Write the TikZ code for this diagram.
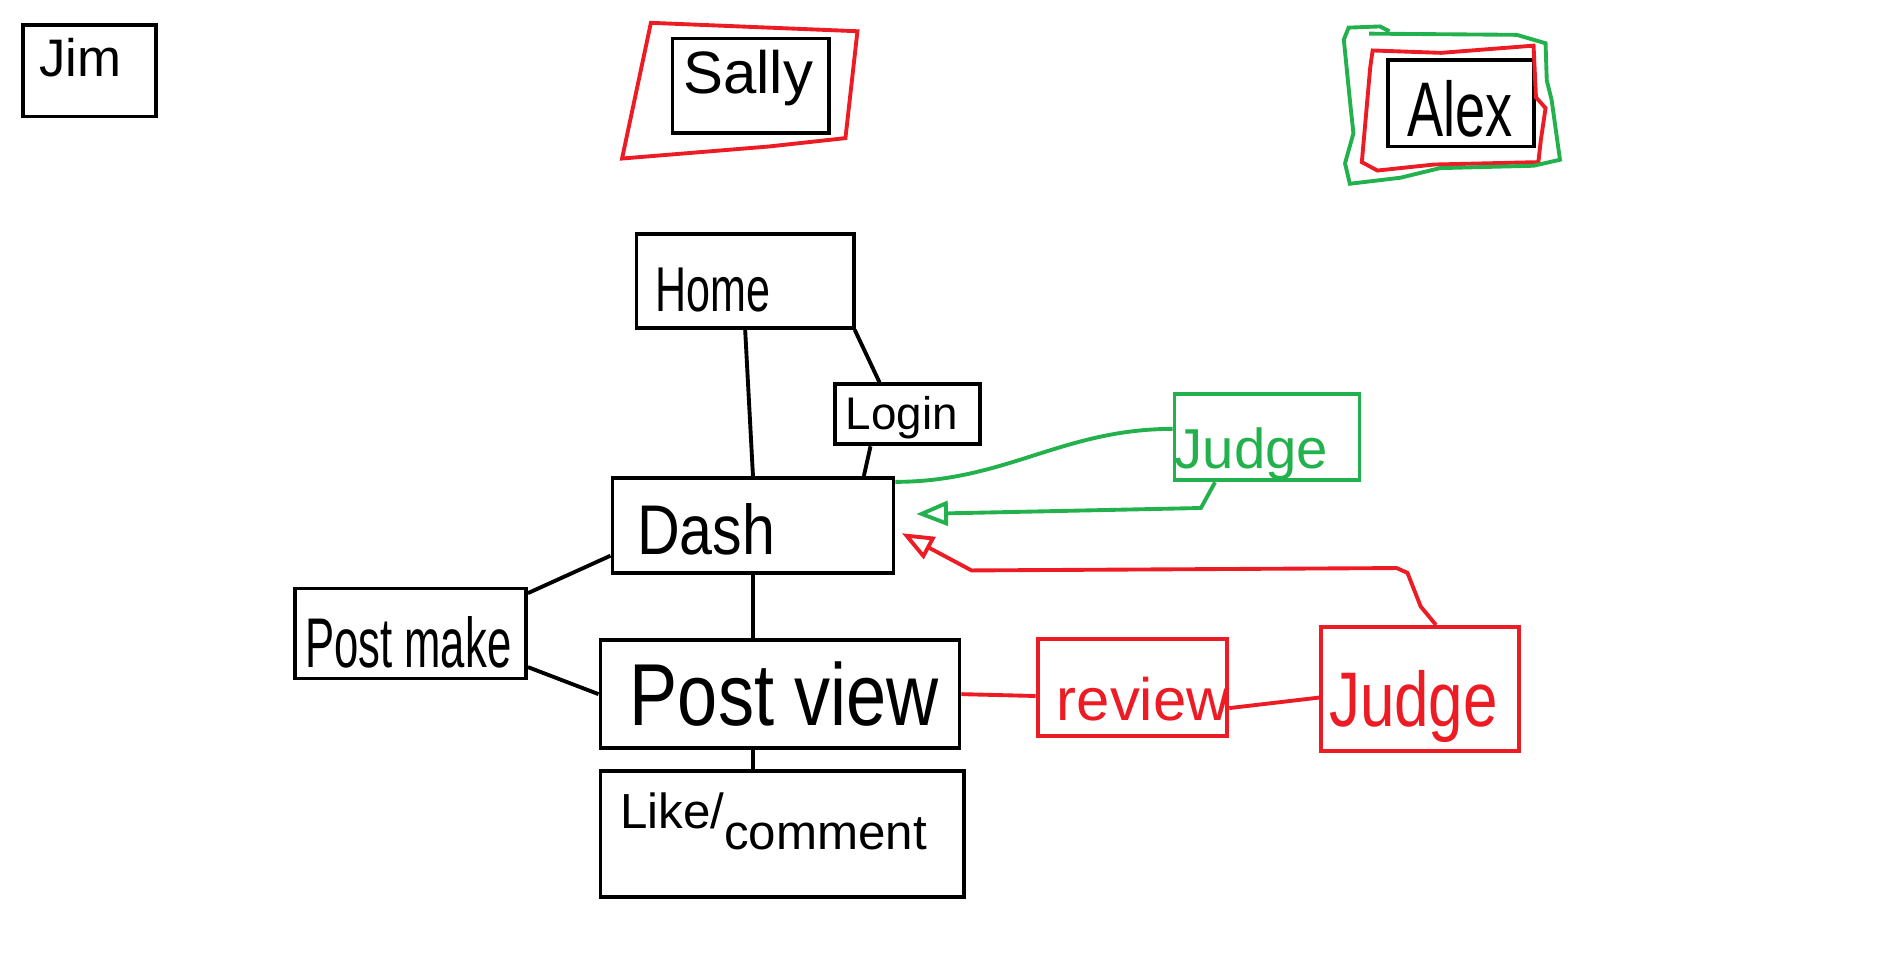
\documentclass[tikz,border=0pt]{standalone}
\definecolor{paintred}{RGB}{237,28,36}
\definecolor{paintgreen}{RGB}{34,177,76}
\usepackage{fontspec}
\setmainfont{Liberation Sans}
\usepackage{graphicx}
\usepackage{tikz}
\usetikzlibrary{arrows.meta,positioning,fit,calc}

\begin{document}
\begin{tikzpicture}[
    x=0.012cm, y=-0.012cm,
    line width=1.1pt,
    page/.style={draw=black, inner sep=0pt},
    red page/.style={draw=paintred, inner sep=0pt},
    green page/.style={draw=paintgreen, inner sep=0pt},
    page text/.style={anchor=base, inner sep=0pt},
    red link/.style={draw=paintred},
    green link/.style={draw=paintgreen},
    hand arrow/.style={-{Triangle[open, length=9pt, width=7pt]}}
]
    \useasboundingbox (0,0) rectangle (1568,805);

    % Users
    \node[page, fit={(19,21) (130,97)}] (jim) {};
    \node[page text, font=\fontsize{15}{15}\selectfont] (jimtxt) at (67,64) {Jim};
    \node[page, fit={(560,32) (690,111)}] (sally) {};
    \node[page text, font=\fontsize{17}{17}\selectfont] (sallytxt) at (623,78) {Sally};
    \node[page, fit={(1156,50) (1277,122)}] (alex) {};
    \node[page text, font=\fontsize{22}{22}\selectfont] (alextxt) at (1216,114) {\scalebox{0.7}[1]{Alex}};

    % Highlights round the users
    \draw[paintred] (542,19) -- (714,26) -- (704,115) -- (640,122) -- (518,132) -- cycle;
    \draw[paintred] (1143,42) -- (1200,44) -- (1277,38) -- (1279,81) -- (1287,90)
        -- (1283,117) -- (1281,135) -- (1194,137) -- (1147,142) -- (1134,135)
        -- (1141,56) -- cycle;
    \draw[paintgreen] (1140,28) -- (1263,29) -- (1287,36) -- (1288,67) -- (1292,83)
        -- (1299,133) -- (1277,138) -- (1199,140) -- (1166,148) -- (1124,153)
        -- (1120,136) -- (1127,111) -- (1124,83) -- (1119,33) -- (1123,23)
        -- (1149,22) -- (1157,26);

    % Pages
    \node[page, fit={(530,195) (711,273)}] (home) {};
    \node[page text, font=\fontsize{18}{18}\selectfont] (hometxt) at (594,259) {\scalebox{0.68}[1]{Home}};
    \node[page, fit={(695,320) (816,370)}] (login) {};
    \node[page text, font=\fontsize{13}{13}\selectfont] (logintxt) at (751,358) {Login};
    \node[page, fit={(510,398) (744,477)}] (dash) {};
    \node[page text, font=\fontsize{20}{20}\selectfont] (dashtxt) at (588,462) {\scalebox{0.84}[1]{Dash}};
    \node[page, fit={(246,490) (438,565)}] (postmake) {};
    \node[page text, font=\fontsize{20}{20}\selectfont] (postmaketxt) at (340,556) {\scalebox{0.62}[1]{Post make}};
    \node[page, fit={(500,533) (799,623)}] (postview) {};
    \node[page text, font=\fontsize{25}{25}\selectfont] (postviewtxt) at (653,604) {\scalebox{0.82}[1]{Post view}};
    \node[page, fit={(500,642) (803,747)}] (like) {};
    \node[page text, font=\fontsize{14}{14}\selectfont] (liketxt) at (644,690) {Like/\raisebox{-6pt}{comment}};

    % Judging
    \node[green page, fit={(978,328) (1132,400)}] (judgeg) {};
    \node[page text, paintgreen, font=\fontsize{16}{16}\selectfont] (judgegtxt) at (1042,390) {Judge};
    \node[red page, fit={(864,532) (1022,613)}] (review) {};
    \node[page text, paintred, font=\fontsize{17}{17}\selectfont] (reviewtxt) at (952,600) {review};
    \node[red page, fit={(1100,522) (1265,625)}] (judger) {};
    \node[page text, paintred, font=\fontsize{22}{22}\selectfont] (judgertxt) at (1177,605) {\scalebox{0.8}[1]{Judge}};

    \coordinate (greentip) at (763,428);
    \coordinate (redtip) at (751,444);

    % Connections
    \draw (home.south) -- (dash.north);
    \draw (home.-24) -- (login.131);
    \draw (login.-139) -- (dash.24);
    \draw (dash.south) -- (dash.south |- postview.north);
    \draw (dash.-168) -- (postmake.19);
    \draw (postmake.-16) -- (postview.west);
    \draw (postview.south -| dash.south) -- (like.north -| dash.south);

    \draw[red link] (postview.east) -- (review.-175);
    \draw[red link] (review.-12) -- (judger.-175);
    \draw[red link, hand arrow] (judger.76) -- (1183,505) -- (1172,477) -- (1163,473)
        -- (809,475) -- (redtip);

    \draw[green link] (dash.17) to[out=0, in=180] (judgeg.175);
    \draw[green link, hand arrow] (judgeg.-139) -- (1000,423) -- (greentip);
\end{tikzpicture}
\end{document}
